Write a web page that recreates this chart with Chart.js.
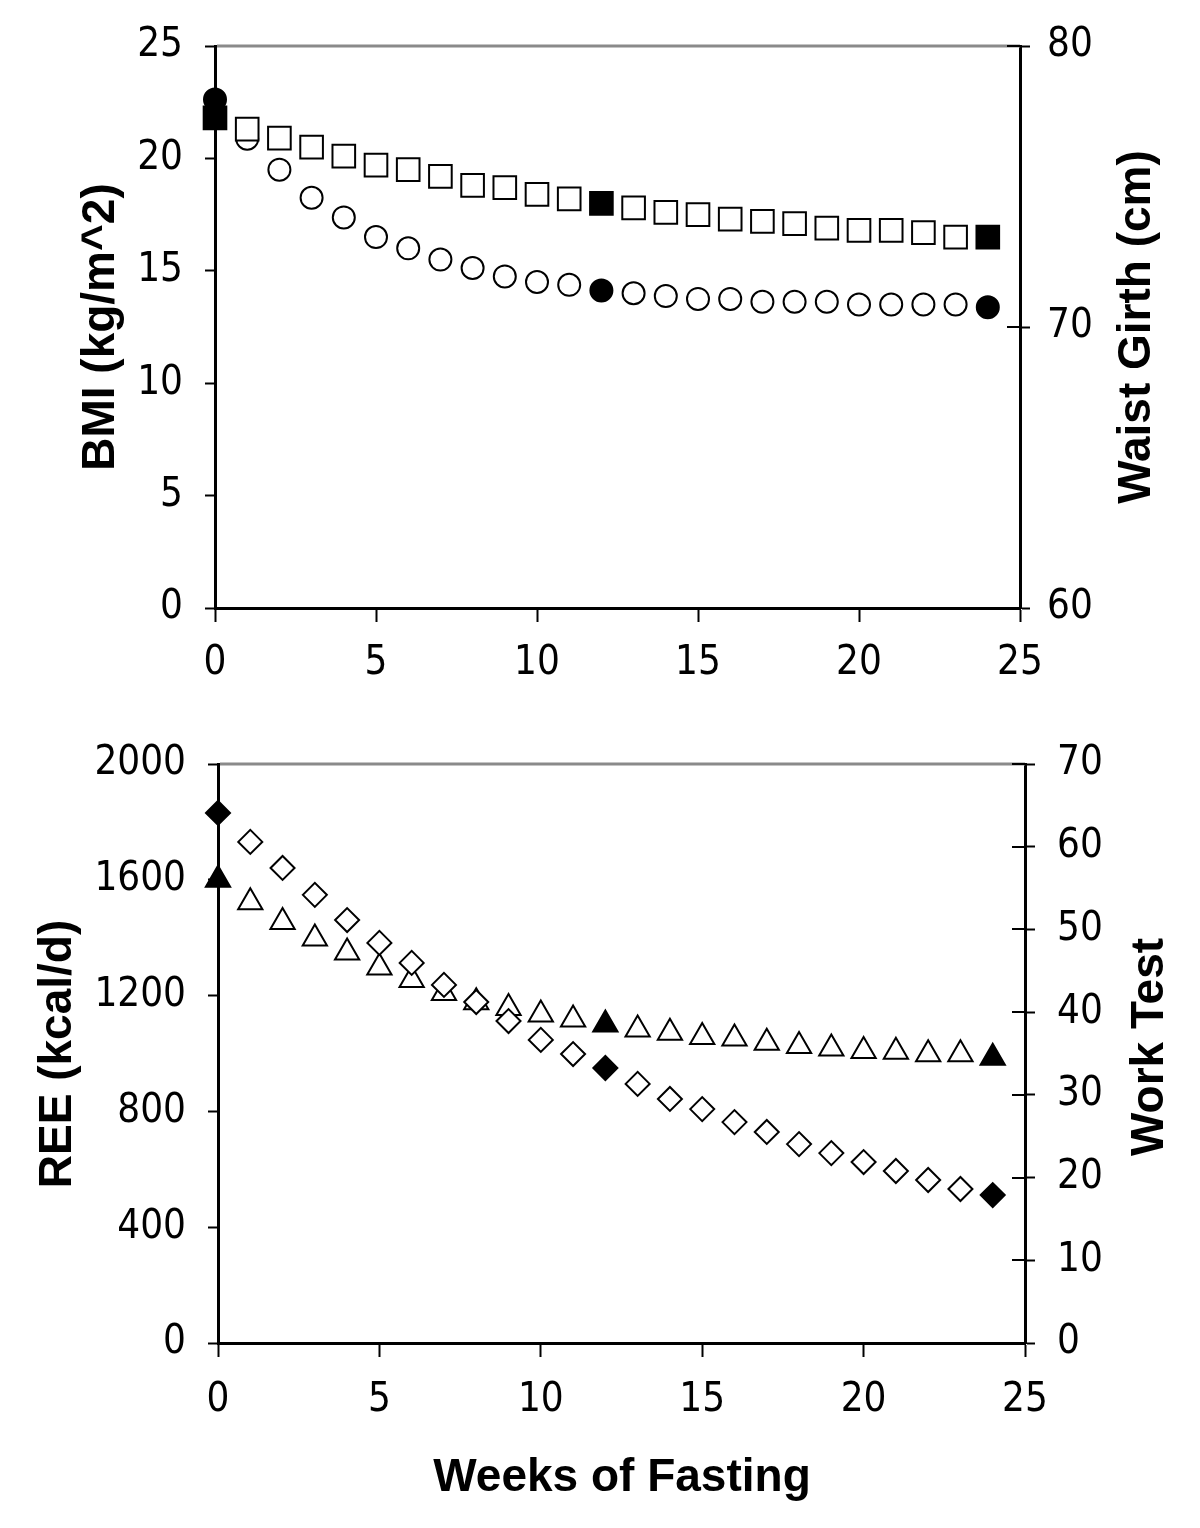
<!DOCTYPE html>
<html>
<head>
<meta charset="utf-8">
<title>Weeks of Fasting</title>
<script src="https://cdn.jsdelivr.net/npm/chart.js@4.4.1/dist/chart.umd.min.js"></script>
<style>
  html, body { margin: 0; padding: 0; background: #fff; }
  #wrap { position: relative; width: 1200px; height: 1528px; }
  canvas { position: absolute; left: 0; }
  #top { top: 0; }
  #bottom { top: 700px; }
</style>
</head>
<body>
<div id="wrap">
  <canvas id="top" width="1200" height="700"></canvas>
  <canvas id="bottom" width="1200" height="828"></canvas>
</div>
<script>
// weeks 0..24, filled markers at start / midpoint / end
const weeks = [0, 1, 2, 3, 4, 5, 6, 7, 8, 9, 10, 11, 12, 13, 14, 15, 16, 17, 18, 19, 20, 21, 22, 23, 24];
const filledWeeks = [0, 12, 24];

const bmi = [21.8, 21.3, 20.9, 20.5, 20.1, 19.7, 19.5, 19.2, 18.8, 18.7, 18.4, 18.2, 18.0, 17.8, 17.6, 17.5, 17.3, 17.2, 17.1, 16.9, 16.8, 16.8, 16.7, 16.5, 16.5];
const waist = [78.1, 76.7, 75.6, 74.6, 73.9, 73.2, 72.8, 72.4, 72.1, 71.8, 71.6, 71.5, 71.3, 71.2, 71.1, 71.0, 71.0, 70.9, 70.9, 70.9, 70.8, 70.8, 70.8, 70.8, 70.7];
const ree = [1831, 1731, 1641, 1548, 1461, 1382, 1313, 1237, 1178, 1112, 1047, 998, 950, 895, 843, 808, 763, 729, 687, 656, 625, 594, 563, 532, 511];
const workTest = [56.0, 53.3, 50.9, 48.9, 47.2, 45.4, 43.9, 42.3, 41.2, 40.5, 39.7, 39.1, 38.5, 37.9, 37.5, 37.0, 36.8, 36.3, 35.9, 35.6, 35.3, 35.2, 34.9, 34.9, 34.5];

const weekTicks = [0, 5, 10, 15, 20, 25];
const bmiTicks = [0, 5, 10, 15, 20, 25];
const waistTicks = [60, 70, 80];
const reeTicks = [0, 400, 800, 1200, 1600, 2000];
const workTicks = [0, 10, 20, 30, 40, 50, 60, 70];

const tickFont = { family: "'Liberation Sans Narrow', 'DejaVu Sans Condensed', 'Liberation Sans', sans-serif", size: 40 };
const titleFont = "bold 46px 'Liberation Sans', Arial, sans-serif";

const points = vals => weeks.map((w, i) => ({ x: w, y: vals[i] }));
const fills = () => weeks.map(w => filledWeeks.includes(w) ? '#000' : '#fff');
const fixTicks = list => s => { s.ticks = list.map(v => ({ value: v })); };

function marker(label, vals, axis, style, r) {
  return {
    label: label, data: points(vals), yAxisID: axis,
    pointStyle: style, pointRadius: r, pointHoverRadius: r,
    pointBorderWidth: 2, borderColor: '#000',
    pointBackgroundColor: fills(), pointBorderColor: '#000',
    showLine: false, clip: false
  };
}

function axisScale(pos, min, max, list, tickLen, pad, width) {
  return {
    type: 'linear', position: pos, min: min, max: max,
    afterBuildTicks: fixTicks(list),
    afterFit: s => { if (pos === 'bottom') s.height = width; else s.width = width; },
    grid: { drawOnChartArea: false, drawTicks: true, tickLength: tickLen, tickColor: '#000', tickWidth: 2 },
    border: { display: true, color: '#000', width: 3 },
    ticks: {
      color: '#000', font: tickFont, padding: pad, maxRotation: 0, autoSkip: false,
      callback: v => String(v)
    }
  };
}

// top frame line, inner ticks of the right axis, rotated titles
const decor = {
  id: 'decor',
  afterDraw(chart, args, opts) {
    const ctx = chart.ctx, a = chart.chartArea;
    ctx.save();
    ctx.strokeStyle = '#8a8a8a';
    ctx.lineWidth = 3;
    ctx.beginPath();
    ctx.moveTo(a.left + 2, a.top);
    ctx.lineTo(a.right, a.top);
    ctx.stroke();
    ctx.strokeStyle = '#000';
    ctx.lineWidth = 2;
    chart.scales.y2.ticks.forEach(t => {
      const y = Math.round(chart.scales.y2.getPixelForValue(t.value));
      ctx.beginPath();
      ctx.moveTo(a.right - 13, y);
      ctx.lineTo(a.right, y);
      ctx.stroke();
    });
    ctx.fillStyle = '#000';
    ctx.font = titleFont;
    ctx.textAlign = 'center';
    ctx.textBaseline = 'middle';
    opts.titles.forEach(t => {
      ctx.save();
      ctx.translate(t.x, t.y);
      ctx.rotate(t.rot);
      ctx.fillText(t.text, 0, 0);
      ctx.restore();
    });
    ctx.restore();
  }
};

const base = {
  responsive: false, devicePixelRatio: 1, animation: false,
  plugins: { legend: { display: false }, tooltip: { enabled: false } }
};

new Chart(document.getElementById('top'), {
  type: 'scatter',
  data: {
    datasets: [
      marker('BMI', bmi, 'y', 'rect', 16),
      marker('Waist Girth', waist, 'y2', 'circle', 11)
    ]
  },
  options: Object.assign({}, base, {
    layout: { padding: { top: 45, left: 0, right: 0, bottom: 0 } },
    scales: {
      x: axisScale('bottom', 0, 25, weekTicks, 14, 18, 92),
      y: axisScale('left', 0, 25, bmiTicks, 10, 22, 215),
      y2: axisScale('right', 60, 80, waistTicks, 10, 17, 180)
    },
    plugins: Object.assign({}, base.plugins, {
      decor: { titles: [
        { text: 'BMI (kg/m^2)', x: 101, y: 327, rot: -Math.PI / 2 },
        { text: 'Waist Girth (cm)', x: 1137, y: 327, rot: -Math.PI / 2 }
      ] }
    })
  }),
  plugins: [decor]
});

new Chart(document.getElementById('bottom'), {
  type: 'scatter',
  data: {
    datasets: [
      marker('REE', ree, 'y', 'rectRot', 12),
      marker('Work Test', workTest, 'y2', 'triangle', 14)
    ]
  },
  options: Object.assign({}, base, {
    layout: { padding: { top: 64, left: 0, right: 0, bottom: 0 } },
    scales: {
      x: axisScale('bottom', 0, 25, weekTicks, 14, 20, 185),
      y: axisScale('left', 0, 2000, reeTicks, 10, 22, 218),
      y2: axisScale('right', 0, 70, workTicks, 10, 22, 175)
    },
    plugins: Object.assign({}, base.plugins, {
      decor: { titles: [
        { text: 'REE (kcal/d)', x: 58, y: 354, rot: -Math.PI / 2 },
        { text: 'Work Test', x: 1150, y: 347, rot: -Math.PI / 2 },
        { text: 'Weeks of Fasting', x: 622, y: 778, rot: 0 }
      ] }
    })
  }),
  plugins: [decor]
});
</script>
</body>
</html>
